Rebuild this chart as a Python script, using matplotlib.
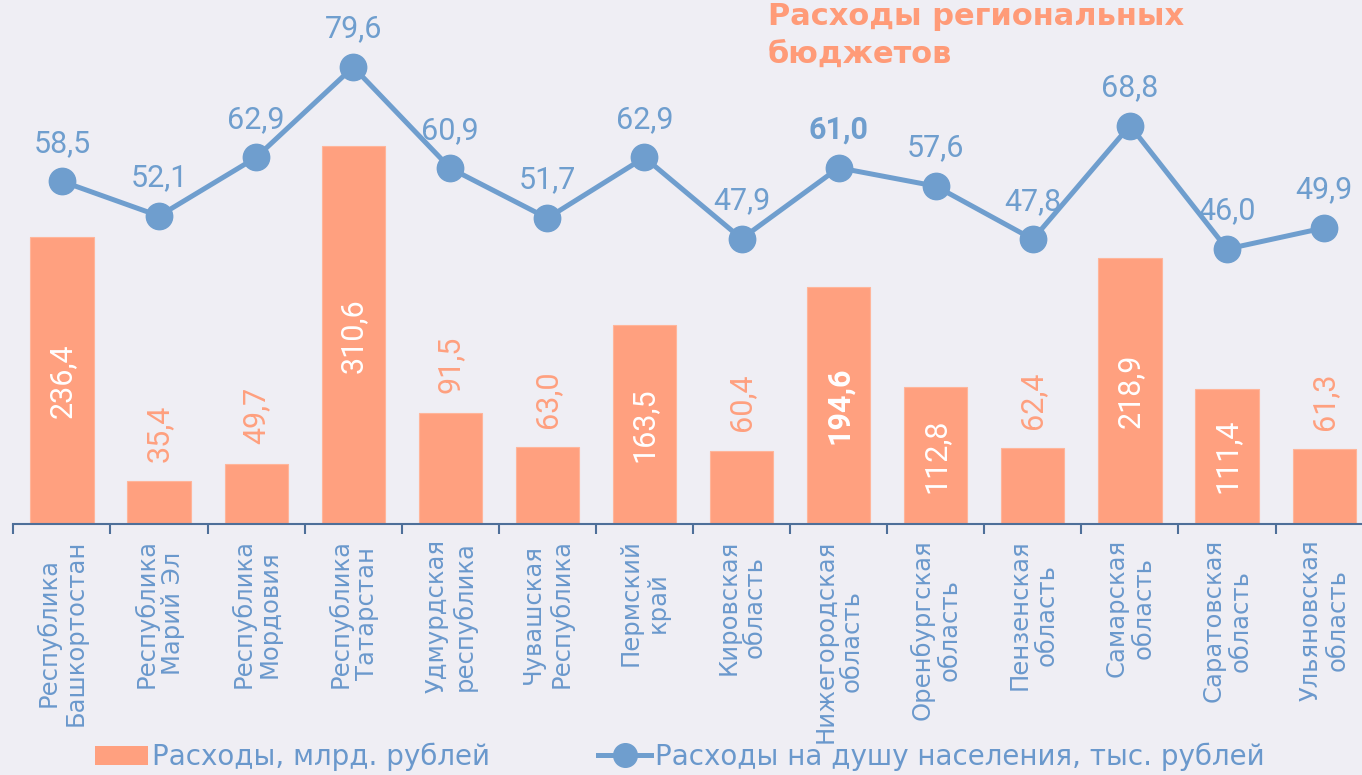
import matplotlib
matplotlib.use("Agg")
import matplotlib.pyplot as plt
from matplotlib.lines import Line2D
from matplotlib.patches import Patch
import numpy as np

regions = ["Республика\nБашкортостан", "Республика\nМарий Эл", "Республика\nМордовия",
           "Республика\nТатарстан", "Удмурдская\nреспублика", "Чувашская\nРеспублика",
           "Пермский\nкрай", "Кировская\nобласть", "Нижегородская\nобласть",
           "Оренбургская\nобласть", "Пензенская\nобласть", "Самарская\nобласть",
           "Саратовская\nобласть", "Ульяновская\nобласть"]
spending = [236.4, 35.4, 49.7, 310.6, 91.5, 63.0, 163.5, 60.4, 194.6, 112.8, 62.4, 218.9, 111.4, 61.3]
per_capita = [58.5, 52.1, 62.9, 79.6, 60.9, 51.7, 62.9, 47.9, 61.0, 57.6, 47.8, 68.8, 46.0, 49.9]
highlight = "Нижегородская\nобласть"

bg = "#EFEEF4"
bar_color = "#FFA07F"
line_color = "#6F9ECE"
text_blue = "#6A98CC"
num_font = ["Roboto", "DejaVu Sans"]

fig = plt.figure(figsize=(13.62, 7.75), dpi=100, facecolor=bg)
ax = fig.add_axes([13.4 / 1362, 251 / 775, 1 - 13.4 / 1362, 524 / 775])
ax.set_facecolor("none")

x = np.arange(len(regions))
ax.bar(x, spending, width=0.65, color=bar_color, edgecolor="#FFB59A", linewidth=0.8, zorder=2)

for i, v in enumerate(spending):
    bold = regions[i] == highlight
    lbl = f"{v:.1f}".replace(".", ",")
    if v > 100:
        ax.text(i, v / 2, lbl, rotation=90, ha="center", va="center", color="white",
                fontsize=22, family=num_font, fontweight="bold" if bold else "normal", zorder=3)
    else:
        ax.annotate(lbl, (i, v), xytext=(0, 14), textcoords="offset points", rotation=90,
                    ha="center", va="bottom", color=bar_color, fontsize=22, family=num_font,
                    fontweight="bold" if bold else "normal")

for s in ["top", "right", "left"]:
    ax.spines[s].set_visible(False)
ax.spines["bottom"].set_color("#4E6F99")
ax.spines["bottom"].set_linewidth(1.5)
ax.set_yticks([])
ax.set_xticks(x)
ax.set_xticklabels(regions, rotation=90, fontsize=17.5, color=text_blue, linespacing=1.15)
ax.tick_params(axis="x", which="major", length=0, pad=11)
ax.set_xticks(np.arange(-0.5, len(regions), 1.0), minor=True)
ax.tick_params(axis="x", which="minor", length=7, width=1.5, color="#4E6F99")
ax.set_xlim(-0.5, 13.39)
ax.set_ylim(0, 431)

ax2 = ax.twinx()
ax2.set_ylim(-4.76, 91.97)
ax2.plot(x, per_capita, color=line_color, linewidth=3.6, marker="o", markersize=19, zorder=4)
for i, v in enumerate(per_capita):
    bold = regions[i] == highlight
    ax2.annotate(f"{v:.1f}".replace(".", ","), (i, v), xytext=(0, 17), textcoords="offset points",
                 ha="center", va="bottom", color=line_color, fontsize=22, family=num_font,
                 fontweight="bold" if bold else "normal")
ax2.set_xlim(-0.5, 13.39)
ax2.axis("off")

fig.text(768 / 1362, 1 - 2 / 775, "Расходы региональных\nбюджетов", ha="left", va="top",
         fontsize=22, fontweight="bold", color="#FF9B78", linespacing=1.4)

handles = [Patch(facecolor=bar_color, edgecolor="none"),
           Line2D([0], [0], color=line_color, linewidth=3.6, marker="o", markersize=17)]
fig.legend(handles, ["Расходы, млрд. рублей", "Расходы на душу населения, тыс. рублей"],
           loc="center left", bbox_to_anchor=(95 / 1362, 18 / 775), ncol=2, frameon=False,
           fontsize=20, labelcolor=text_blue, handlelength=1.9, handleheight=0.7,
           handletextpad=0.15, columnspacing=3.9, borderpad=0, borderaxespad=0)

fig.savefig("out.png", dpi=100, facecolor=bg)
